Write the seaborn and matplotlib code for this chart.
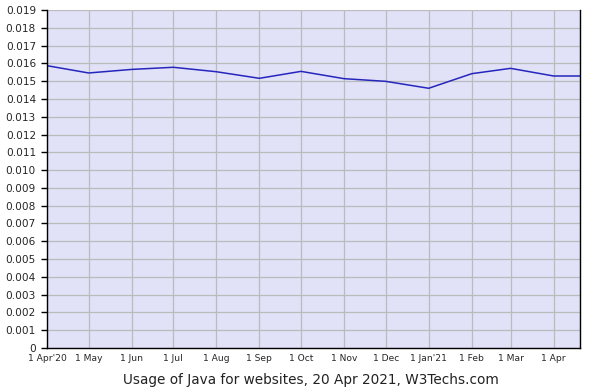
import matplotlib
matplotlib.use("Agg")
import matplotlib.pyplot as plt
import seaborn as sns
import pandas as pd

dates = ["2020-04-01", "2020-05-01", "2020-06-01", "2020-07-01", "2020-08-01",
         "2020-09-01", "2020-10-01", "2020-11-01", "2020-12-01", "2021-01-01",
         "2021-02-01", "2021-03-01", "2021-04-01", "2021-04-20"]
usage = [0.01587, 0.01546, 0.01566, 0.01578, 0.01553, 0.01516, 0.01555,
         0.01514, 0.01499, 0.01460, 0.01542, 0.01572, 0.01529, 0.01529]
tick_dates = ["2020-04-01", "2020-05-01", "2020-06-01", "2020-07-01", "2020-08-01",
              "2020-09-01", "2020-10-01", "2020-11-01", "2020-12-01", "2021-01-01",
              "2021-02-01", "2021-03-01", "2021-04-01"]
tick_labels = ["1 Apr'20", "1 May", "1 Jun", "1 Jul", "1 Aug", "1 Sep", "1 Oct",
               "1 Nov", "1 Dec", "1 Jan'21", "1 Feb", "1 Mar", "1 Apr"]
yticks = [round(i * 0.001, 3) for i in range(20)]
title = "Usage of Java for websites, 20 Apr 2021, W3Techs.com"

df = pd.DataFrame({"date": pd.to_datetime(dates), "usage": usage})

sns.set_style("white")
plt.rcParams["font.family"] = ["DejaVu Sans"]

fig = plt.figure(figsize=(5.91, 3.90), dpi=100)
ax = fig.add_axes([47 / 591, 1 - 348 / 390, (580 - 47) / 591, (348 - 10) / 390])
ax.set_facecolor("#E1E1F8")

sns.lineplot(data=df, x="date", y="usage", ax=ax, color="#2626BE", linewidth=1.1)

ax.set_xlim(pd.Timestamp("2020-04-01"), pd.Timestamp("2021-04-20"))
ax.set_ylim(0, 0.019)
ax.set_yticks(yticks)
ax.set_yticklabels([("0" if v == 0 else f"{v:.3f}") for v in yticks], fontsize=7.6)
ax.set_xticks(pd.to_datetime(tick_dates))
ax.set_xticklabels(tick_labels, fontsize=6.6)

ax.grid(True, color="#BBBBBB", linewidth=0.9)
ax.set_axisbelow(True)
for side in ["left", "bottom", "right"]:
    ax.spines[side].set_visible(True)
    ax.spines[side].set_color("black")
    ax.spines[side].set_linewidth(1.0)
ax.spines["top"].set_visible(False)

ax.tick_params(axis="y", which="both", left=True, length=4.5, width=1, color="black", pad=3.5)
ax.tick_params(axis="x", which="both", bottom=False, length=0, pad=4)

ax.set_xlabel("")
ax.set_ylabel("")
fig.text(311 / 591, 1 - 380 / 390, title, ha="center", va="center", fontsize=9.8, color="#222222")

fig.savefig("out.png", dpi=100)
